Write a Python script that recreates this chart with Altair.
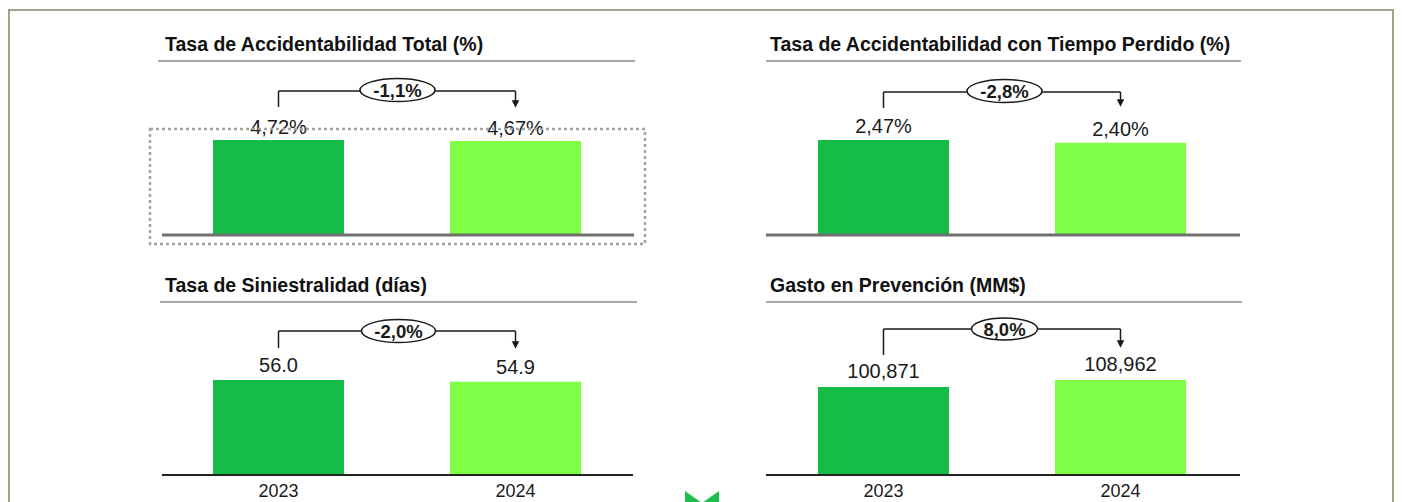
import altair as alt
import pandas as pd

# ---------------- data ----------------
YEARS = ["2023", "2024"]
TITLES = [
    "Tasa de Accidentabilidad Total (%)",
    "Tasa de Accidentabilidad con Tiempo Perdido (%)",
    "Tasa de Siniestralidad (días)",
    "Gasto en Prevención (MM$)",
]
TOTAL_RATE = [4.72, 4.67]
LOST_TIME_RATE = [2.47, 2.40]
CLAIMS_RATE = [56.0, 54.9]
PREVENTION_SPEND = [100871, 108962]
TOTAL_LABELS = ["4,72%", "4,67%"]
LOST_TIME_LABELS = ["2,47%", "2,40%"]
CLAIMS_LABELS = ["56.0", "54.9"]
SPEND_LABELS = ["100,871", "108,962"]
CHANGES = ["-1,1%", "-2,8%", "-2,0%", "8,0%"]

# ---------------- style ----------------
BAR_COLORS = ["#15BD48", "#7FFF45"]
FONT = "Liberation Sans"
INK = "#1a1a1a"
PAD_INNER = 1 - 131 / 237

ARROW = "M-1,-1L1,-1L0,1Z"
CHEVRON = "M-1,-1L0,-0.3L1,-1L1,-0.1L0,0.6L-1,-0.1Z"


def ellipse_path(r):
    k = 0.5523
    return (f"M-1,0C-1,{-k*r:.4f} {-k:.4f},{-r:.4f} 0,{-r:.4f}"
            f"C{k:.4f},{-r:.4f} 1,{-k*r:.4f} 1,0"
            f"C1,{k*r:.4f} {k:.4f},{r:.4f} 0,{r:.4f}"
            f"C{-k:.4f},{r:.4f} -1,{k*r:.4f} -1,0Z")


def panel(title, values, labels, change, width, height, outer, factor, lay,
          base_color, base_width, label_dy, years=False, extras=()):
    df = pd.DataFrame({"year": YEARS, "value": values, "label": labels})
    base = alt.Chart(df)
    one = alt.Chart(pd.DataFrame({"t": [title], "c": [change]}))
    xenc = alt.X("year:N", axis=None, sort=YEARS,
                 scale=alt.Scale(domain=YEARS, paddingInner=PAD_INNER, paddingOuter=outer))
    yscale = alt.Scale(domain=[0, max(values) * factor], nice=False, zero=True)
    yenc = alt.Y("value:Q", axis=None, scale=yscale)

    layers = []
    layers.append(one.mark_rule(color="#888888", strokeWidth=1.5).encode(
        x=alt.value(lay["ux0"]), x2=alt.value(lay["ux1"]), y=alt.value(lay["uy"])))
    layers.append(base.mark_bar().encode(
        x=xenc, y=yenc,
        color=alt.Color("year:N", scale=alt.Scale(domain=YEARS, range=BAR_COLORS), legend=None)))
    layers.append(one.mark_rule(color=base_color, strokeWidth=base_width).encode(
        x=alt.value(lay["bx0"]), x2=alt.value(lay["bx1"]), y=alt.value(height)))
    # bracket
    layers.append(base.mark_line(color=INK, strokeWidth=1.5).encode(
        x=xenc, y=alt.value(lay["by"])))
    layers.append(base.transform_filter(alt.datum.year == YEARS[0]).mark_rule(
        color=INK, strokeWidth=1.5).encode(
        x=xenc, y=alt.value(lay["by"]), y2=alt.value(lay["ly"])))
    layers.append(base.transform_filter(alt.datum.year == YEARS[1]).mark_rule(
        color=INK, strokeWidth=1.5).encode(
        x=xenc, y=alt.value(lay["by"]), y2=alt.value(lay["ay"] - 3)))
    layers.append(base.transform_filter(alt.datum.year == YEARS[1]).mark_point(
        shape=ARROW, size=56, filled=True, fill=INK, strokeWidth=0, opacity=1).encode(
        x=xenc, y=alt.value(lay["ay"])))
    layers.append(one.mark_point(
        shape=ellipse_path(lay["oh"] / lay["ow"]), size=lay["ow"] ** 2, filled=True,
        fill="white", stroke=INK, strokeWidth=1.5, opacity=1).encode(
        x=alt.value(lay["ox"]), y=alt.value(lay["oy"])))
    layers.append(one.mark_text(fontWeight="bold", fontSize=18.5, font=FONT, color=INK,
                                baseline="middle").encode(
        x=alt.value(lay["ox"]), y=alt.value(lay["oy"] + 1), text="c:N"))
    # value labels
    layers.append(base.mark_text(baseline="alphabetic", dy=label_dy, fontSize=20, font=FONT,
                                 color=INK).encode(x=xenc, y=yenc, text="label:N"))
    # title
    layers.append(one.mark_text(align="left", baseline="alphabetic", fontSize=19.5,
                                fontWeight="bold", font=FONT, color="#111").encode(
        x=alt.value(lay["tx"]), y=alt.value(lay["ty"]), text="t:N"))
    if years:
        layers.append(base.mark_text(baseline="alphabetic", dy=22, fontSize=18, font=FONT,
                                     color=INK).encode(x=xenc, y=alt.value(height), text="year:N"))
    layers.extend(extras)
    return alt.layer(*layers).properties(width=width, height=height)


WL, WR = 778, 432
HT, HB = 227, 240
OUT_L = (WL / 237 - (2 - PAD_INNER)) / 2
OUT_R = (WR / 237 - (2 - PAD_INNER)) / 2
F_TOP = 227 / 95
F_BOT = 240 / 95

deco = alt.Chart(pd.DataFrame({"t": [""]}))
dotted = deco.mark_rect(fillOpacity=0, stroke="#a3a3a3", strokeWidth=2.5, strokeDash=[3, 3]).encode(
    x=alt.value(142), x2=alt.value(637), y=alt.value(121), y2=alt.value(236))
border = deco.mark_rect(fillOpacity=0, stroke="#a3a387", strokeWidth=2).encode(
    x=alt.value(1), x2=alt.value(1385), y=alt.value(2), y2=alt.value(497))
chevron = deco.mark_point(shape=CHEVRON, size=1156, filled=True, fill="#1DBF4A",
                          strokeWidth=0, opacity=1).encode(x=alt.value(694), y=alt.value(273))

p1 = panel(TITLES[0], TOTAL_RATE, TOTAL_LABELS, CHANGES[0], WL, HT, OUT_L, F_TOP,
           dict(tx=157, ty=43, ux0=150, ux1=627, uy=53, bx0=154, bx1=626,
                by=83, ly=99, ay=96, ox=389.5, oy=82, ow=75, oh=23),
           "#707070", 3, -6, extras=(border, dotted))
p2 = panel(TITLES[1], LOST_TIME_RATE, LOST_TIME_LABELS, CHANGES[1], WR, HT, OUT_R, F_TOP,
           dict(tx=-16, ty=43, ux0=-20, ux1=455, uy=53, bx0=-20, bx1=454,
                by=84, ly=100, ay=95, ox=218.5, oy=83, ow=75, oh=23),
           "#707070", 3, -7)
p3 = panel(TITLES[2], CLAIMS_RATE, CLAIMS_LABELS, CHANGES[2], WL, HB, OUT_L, F_BOT,
           dict(tx=157, ty=57, ux0=152, ux1=629, uy=67, bx0=154, bx1=625,
                by=96, ly=113, ay=110, ox=390.5, oy=96, ow=74, oh=23),
           "#222222", 2, -8, years=True, extras=(chevron,))
p4 = panel(TITLES[3], PREVENTION_SPEND, SPEND_LABELS, CHANGES[3], WR, HB, OUT_R, F_BOT,
           dict(tx=-16, ty=57, ux0=-20, ux1=456, uy=67, bx0=-20, bx1=454,
                by=94, ly=120, ay=109, ox=218.5, oy=94, ow=66, oh=22),
           "#222222", 2, -9, years=True)

chart = alt.concat(p1, p2, p3, p4, columns=2, spacing=0, bounds="flush",
                   align="each").properties(
    padding=0, background="white").configure_view(strokeWidth=0)

chart.save("out.html", embed_options={"renderer": "svg", "actions": False})
